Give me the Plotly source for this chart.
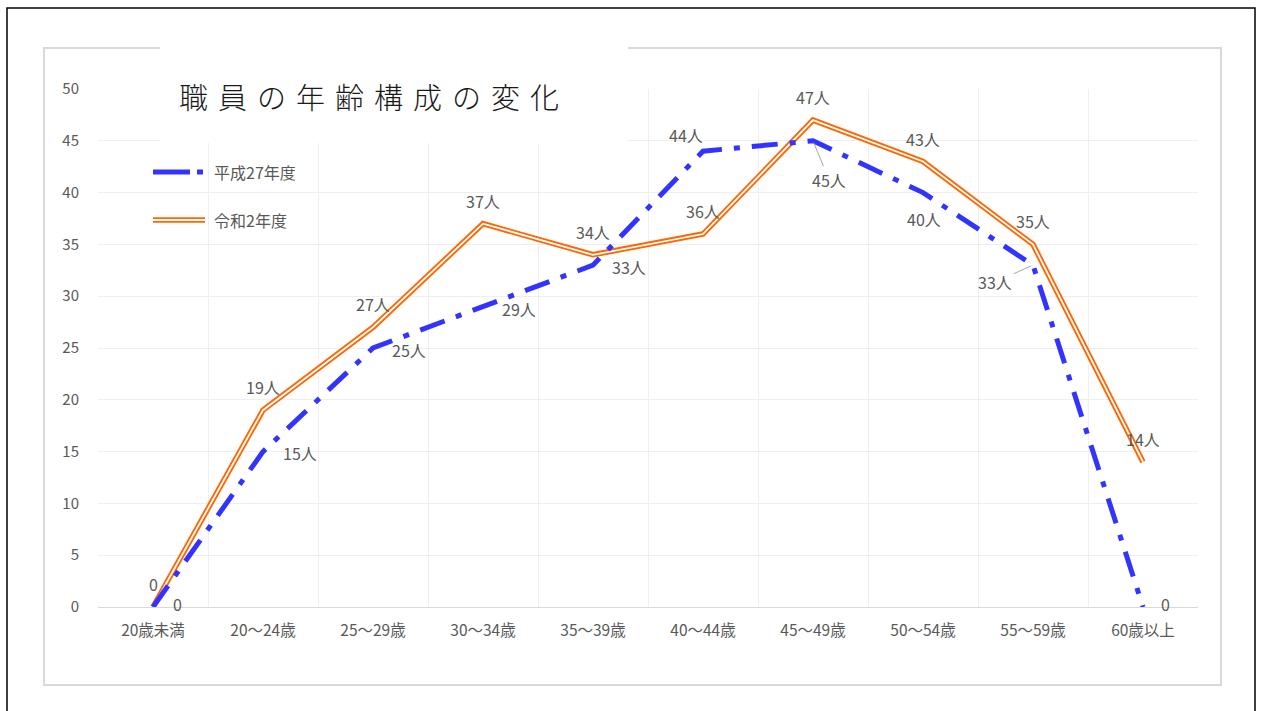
import plotly.graph_objects as go

# ---- data ----
categories = ["20歳未満", "20～24歳", "25～29歳", "30～34歳", "35～39歳",
              "40～44歳", "45～49歳", "50～54歳", "55～59歳", "60歳以上"]
h27_values = [0, 15, 25, 29, 33, 44, 45, 40, 33, 0]
r2_values = [0, 19, 27, 37, 34, 36, 47, 43, 35, 14]
series_names = ["平成27年度", "令和2年度"]
title_text = "職員の年齢構成の変化"
y_ticks = list(range(0, 55, 5))

# ---- styles ----
W, H = 1264, 711
L, R, T, B = 98, 66, 89, 104
PW, PH = W - L - R, H - T - B
BLUE = "#3333FF"
ORANGE = "#FF6600"
LABEL_COLOR = "#595959"
FONT = "Noto Sans CJK JP"

# label offsets (pixels: dx right, dy up) per point
h27_offsets = [(24, 3), (37, -1), (36, -2), (36, -2), (36, -2),
               (-17, 16), (16, -39), (1, -26), (-38, -17), (22, 3)]
h27_leader = [False, False, False, False, False, False, True, False, True, False]
r2_offsets = [(0, 23)] * 10


def px(x, y):
    return (x - L) / PW, (H - B - y) / PH


def label_text(v):
    return "0" if v == 0 else f"{v}人"


fig = go.Figure()

# orange double line: outer orange, inner white
fig.add_trace(go.Scatter(x=categories, y=r2_values, mode="lines",
                         line=dict(color=ORANGE, width=5.5), showlegend=False,
                         hoverinfo="skip", name=series_names[1]))
fig.add_trace(go.Scatter(x=categories, y=r2_values, mode="lines",
                         line=dict(color="white", width=1.8), showlegend=False,
                         hoverinfo="skip"))
# blue dash-dot line
fig.add_trace(go.Scatter(x=categories, y=h27_values, mode="lines",
                         line=dict(color=BLUE, width=5, dash="26px,12px,6px,12px"),
                         showlegend=False, hoverinfo="skip", name=series_names[0]))

annotations = []
label_font = dict(family=FONT, size=16, color=LABEL_COLOR)
for c, v, (dx, dy), lead in zip(categories, h27_values, h27_offsets, h27_leader):
    if lead:
        annotations.append(dict(x=c, y=v, xref="x", yref="y", text=label_text(v),
                                showarrow=True, arrowhead=0, arrowwidth=1,
                                arrowcolor="#A6A6A6", ax=dx, ay=-dy,
                                font=label_font, standoff=2))
    else:
        annotations.append(dict(x=c, y=v, xref="x", yref="y", text=label_text(v),
                                showarrow=False, xshift=dx, yshift=dy,
                                font=label_font))
for c, v, (dx, dy) in zip(categories, r2_values, r2_offsets):
    annotations.append(dict(x=c, y=v, xref="x", yref="y", text=label_text(v),
                            showarrow=False, xshift=dx, yshift=dy, font=label_font))

# title
tx, ty = px(177, 96)
annotations.append(dict(x=tx, y=ty, xref="paper", yref="paper", text=title_text,
                        showarrow=False, xanchor="left", yanchor="middle", align="left",
                        font=dict(family=FONT, size=29, color="#1a1a1a", weight=300)))

# legend texts
for name, yy in zip(series_names, [172, 220]):
    lx, ly = px(212, yy)
    annotations.append(dict(x=lx, y=ly, xref="paper", yref="paper", text=name,
                            showarrow=False, xanchor="left", yanchor="middle",
                            font=dict(family=FONT, size=16, color=LABEL_COLOR)))

shapes = []
# outer black frame
x0, y0 = px(7, 8)
x1, y1 = px(1255, 716)
shapes.append(dict(type="rect", xref="paper", yref="paper", x0=x0, y0=y1, x1=x1, y1=y0,
                   line=dict(color="black", width=1.5), fillcolor="rgba(0,0,0,0)", layer="below"))
# chart area border
x0, y0 = px(44, 48)
x1, y1 = px(1221, 685)
shapes.append(dict(type="rect", xref="paper", yref="paper", x0=x0, y0=y1, x1=x1, y1=y0,
                   line=dict(color="#D9D9D9", width=2), fillcolor="rgba(0,0,0,0)", layer="below"))
# title box (white, covers border and grid)
x0, y0 = px(160, 40)
x1, y1 = px(628, 143)
shapes.append(dict(type="rect", xref="paper", yref="paper", x0=x0, y0=y1, x1=x1, y1=y0,
                   line=dict(width=0), fillcolor="white", layer="above"))
# legend symbols
a, yy = px(153, 172)
b, _ = px(190, 172)
shapes.append(dict(type="line", xref="paper", yref="paper", x0=a, x1=b, y0=yy, y1=yy,
                   line=dict(color=BLUE, width=5), layer="above"))
a, _ = px(197, 172)
b, _ = px(203, 172)
shapes.append(dict(type="line", xref="paper", yref="paper", x0=a, x1=b, y0=yy, y1=yy,
                   line=dict(color=BLUE, width=5), layer="above"))
a, yy = px(153, 220)
b, _ = px(205, 220)
shapes.append(dict(type="line", xref="paper", yref="paper", x0=a, x1=b, y0=yy, y1=yy,
                   line=dict(color=ORANGE, width=5.5), layer="above"))
shapes.append(dict(type="line", xref="paper", yref="paper", x0=a, x1=b, y0=yy, y1=yy,
                   line=dict(color="white", width=1.8), layer="above"))

fig.update_layout(
    width=W, height=H, autosize=False,
    margin=dict(l=L, r=R, t=T, b=B, pad=0),
    paper_bgcolor="white", plot_bgcolor="white",
    showlegend=False,
    font=dict(family=FONT, color=LABEL_COLOR),
    annotations=annotations, shapes=shapes,
    xaxis=dict(type="category", range=[-0.5, len(categories) - 0.5],
               tickson="boundaries", showgrid=True, gridcolor="#EFEFEF", gridwidth=1,
               ticks="", showline=True, linecolor="#D9D9D9", linewidth=1,
               tickfont=dict(family=FONT, size=15.5, color=LABEL_COLOR),
               ticklabelstandoff=9, zeroline=False, fixedrange=True),
    yaxis=dict(range=[0, 50], tickvals=y_ticks, showgrid=True, gridcolor="#EFEFEF",
               gridwidth=1, zeroline=False, showline=False, ticks="",
               tickfont=dict(family=FONT, size=15, color=LABEL_COLOR),
               ticklabelstandoff=18, fixedrange=True),
)

post = """
var els = document.querySelectorAll('.annotation-text');
els.forEach(function(e){ if (e.textContent.indexOf('職員') >= 0) { e.style.letterSpacing = '10px'; } });
"""
fig.write_html("out.html", post_script=post, config={"displayModeBar": False})
